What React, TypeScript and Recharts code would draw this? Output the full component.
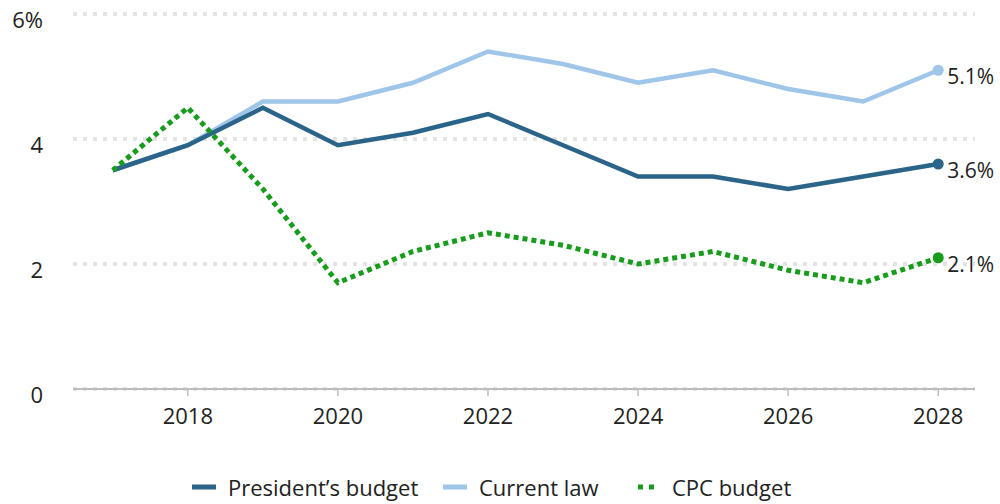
import React from 'react'
import { LineChart, Line, XAxis, YAxis, CartesianGrid, ReferenceLine } from 'recharts'

// growth rates, percent
const years = [2017, 2018, 2019, 2020, 2021, 2022, 2023, 2024, 2025, 2026, 2027, 2028]
const presidents = [3.5, 3.9, 4.5, 3.9, 4.1, 4.4, 3.9, 3.4, 3.4, 3.2, 3.4, 3.6]
const currentLaw = [3.5, 3.9, 4.6, 4.6, 4.9, 5.4, 5.2, 4.9, 5.1, 4.8, 4.6, 5.1]
const cpc = [3.5, 4.5, 3.2, 1.7, 2.2, 2.5, 2.3, 2.0, 2.2, 1.9, 1.7, 2.1]
const xTicks = [2018, 2020, 2022, 2024, 2026, 2028]
const yTicks = [0, 2, 4, 6]

const data = years.map((year, i) => ({
  year,
  presidents: presidents[i],
  currentLaw: currentLaw[i],
  cpc: cpc[i]
}))

const FONT = '"Open Sans", Lato, sans-serif'
const DARK = '#2a6489'
const LIGHT = '#9fc5e8'
const GREEN = '#179c1c'
const last = years.length - 1

const endDot = (color: string) => (props: any) => {
  if (props.index !== last) return <g key={props.index} />
  return (
    <g key={props.index}>
      <circle cx={props.cx} cy={props.cy} r={5.5} fill={color} />
      <text x={props.cx + 9} y={props.cy + 14} fontSize={21} fill="#222" fontFamily={FONT}>
        {props.value.toFixed(1)}%
      </text>
    </g>
  )
}

const YTick = (props: any) => {
  const v = props.payload.value
  return (
    <text x={43} y={props.y + 14} textAnchor="end" fontSize={22} fill="#222" fontFamily={FONT}>
      {v === 6 ? '6%' : v}
    </text>
  )
}

function LegendItem({ label, color, left, dotted }: { label: string; color: string; left: number; dotted?: boolean }) {
  return (
    <span style={{ position: 'absolute', left, top: 0, display: 'inline-flex', alignItems: 'center', whiteSpace: 'nowrap' }}>
      <svg width={24} height={10} style={{ marginRight: 12 }}>
        <line x1={dotted ? 2 : 0} y1={5} x2={dotted ? 20 : 24} y2={5} stroke={color} strokeWidth={5}
          strokeDasharray={dotted ? '5 6' : undefined} />
      </svg>
      {label}
    </span>
  )
}

export default function App() {
  return (
    <div style={{ position: 'absolute', left: 0, top: 0, width: 1000, height: 504, fontFamily: FONT, background: '#fff' }}>
      <LineChart width={1000} height={504} data={data} margin={{ top: 14, right: 25, left: 0, bottom: 75 }}>
        <CartesianGrid vertical={false} stroke="#e4e4e4" strokeWidth={4} strokeDasharray="4 6" />
        <XAxis
          dataKey="year"
          type="number"
          domain={[2016.47, 2028.49]}
          ticks={xTicks}
          height={40}
          axisLine={{ stroke: '#bdbdbd', strokeWidth: 2 }}
          tickLine={{ stroke: '#bdbdbd', strokeWidth: 1.5 }}
          tickSize={7}
          tickMargin={12}
          tick={{ fontSize: 22, fill: '#222', fontFamily: FONT }}
        />
        <YAxis
          width={73}
          domain={[0, 6]}
          ticks={yTicks}
          axisLine={false}
          tickLine={false}
          tick={<YTick />}
        />
        <ReferenceLine y={0} stroke="#bdbdbd" strokeWidth={2} />
        <Line type="linear" dataKey="currentLaw" stroke={LIGHT} strokeWidth={4.5}
          dot={endDot(LIGHT)} activeDot={false} isAnimationActive={false} />
        <Line type="linear" dataKey="presidents" stroke={DARK} strokeWidth={4.5}
          dot={endDot(DARK)} activeDot={false} isAnimationActive={false} />
        <Line type="linear" dataKey="cpc" stroke={GREEN} strokeWidth={5} strokeDasharray="5 4"
          dot={endDot(GREEN)} activeDot={false} isAnimationActive={false} />
      </LineChart>
      <div style={{ position: 'absolute', top: 472, left: 0, width: 1000, height: 32, fontSize: 22, color: '#222' }}>
        <LegendItem label="President’s budget" color={DARK} left={192} />
        <LegendItem label="Current law" color={LIGHT} left={443} />
        <LegendItem label="CPC budget" color={GREEN} left={636} dotted />
      </div>
    </div>
  )
}
